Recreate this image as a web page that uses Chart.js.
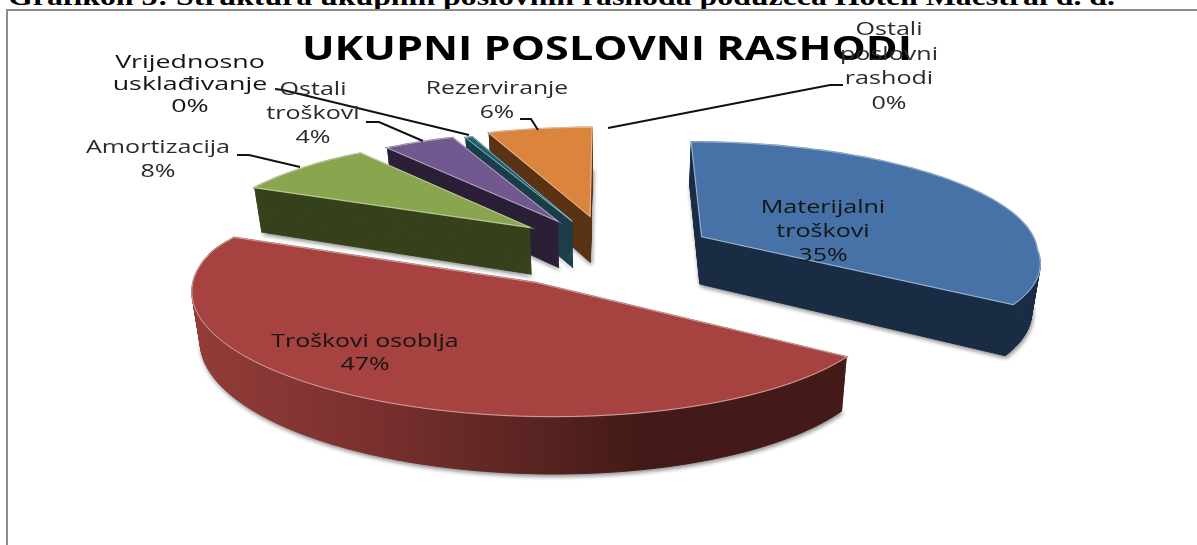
<!DOCTYPE html>
<html>
<head>
<meta charset="utf-8">
<title>Ukupni poslovni rashodi</title>
<style>
  html, body { margin: 0; padding: 0; background: #fff; overflow: hidden; }
  #page { position: relative; width: 1197px; height: 545px; overflow: hidden; }
  #caption { position: absolute; left: 8px; top: -18px; font: bold 26px "Liberation Serif", serif; white-space: nowrap; color: #000; transform-origin: 0 0; transform: scaleX(1.224); }
  #frame { position: absolute; left: 6px; top: 9px; width: 1300px; height: 700px; border: 2px solid #8c8c8c; }
  #chart { position: absolute; left: 0; top: 0; }
</style>
</head>
<body>
<div id="page">
  <div id="caption">Grafikon 3: Struktura ukupnih poslovnih rashoda poduzeća Hoteli Maestral d. d.</div>
  <div id="frame"></div>
  <canvas id="chart" width="1197" height="545"></canvas>
</div>
<script src="https://cdn.jsdelivr.net/npm/chart.js@4"></script>
<script>
// Values
const categories = ['Materijalni troškovi', 'Troškovi osoblja', 'Amortizacija', 'Ostali troškovi', 'Vrijednosno usklađivanje', 'Rezerviranje', 'Ostali poslovni rashodi'];
const shares = [35.0, 46.7, 8.0, 4.0, 0.4, 5.9, 0.0];
const chartTitle = 'UKUPNI POSLOVNI RASHODI';

const topColors = ['#4672a8', '#a64340', '#89a54e', '#71588f', '#1f5f70', '#db843d', '#93a9cf'];
const wallColors = ['#1a2d45', null, '#36421c', '#2b2037', '#1a3e48', '#5a3315', '#93a9cf'];

// Slice displacement in the pie plane (units of radius)
const explodeX = [0.285, -0.24, -0.246, -0.16, -0.115, -0.06, 0];
const explodeY = [-0.12, 0.295, -0.21, -0.27, -0.27, -0.32, 0];
const sliceReach = [1.02, 1, 1, 1, 1, 1, 1];
const drawOrder = [5, 4, 3, 2, 0, 1];

// Camera for the tilted pie
const view = { cx: 609, cy: 249.5, rx: 330, ry: 108, t: 0.126, shear: 30, depth: 48, foot: 0.98 };

// Label text blocks: centre x and one y per line
const labelLines = [
  ['Materijalni', 'troškovi'], ['Troškovi osoblja'], ['Amortizacija'], ['Ostali', 'troškovi'],
  ['Vrijednosno', 'usklađivanje'], ['Rezerviranje'], ['Ostali', 'poslovni', 'rashodi']
];
const labelX = [823, 365, 158, 313, 190, 497, 889];
const labelY = [208, 342, 148, 90, 63, 89, 30];
const labelGap = [24, 23, 24, 24, 22, 24, 24.5];
const labelStretch = [1.32, 1.31, 1.32, 1.32, 1.41, 1.3, 1.32];
const leaders = [
  null, null,
  [[237, 155], [249, 155], [300, 167]],
  [[366, 122], [379, 122], [423, 141]],
  [[275, 89], [283, 90], [469, 135]],
  [[520, 119], [531, 119], [538, 130]],
  [[843, 85], [830, 85], [608, 128]]
];

function project(u, v, drop) {
  const w = 1 / (1 - view.t * v);
  const k = drop ? 1 - (1 - view.foot) * drop / view.depth : 1;
  return [
    view.cx + (view.rx * u * w + view.shear * Math.max(v, 0)) * k,
    view.cy + view.ry * v * w + (drop || 0) * w
  ];
}

function slicePath(ctx, el, i, drop) {
  const ex = explodeX[i], ey = explodeY[i], r = sliceReach[i];
  const steps = Math.max(2, Math.ceil((el.endAngle - el.startAngle) * 40));
  ctx.beginPath();
  let p = project(ex, ey, drop);
  ctx.moveTo(p[0], p[1]);
  for (let s = 0; s <= steps; s++) {
    const a = el.startAngle + (el.endAngle - el.startAngle) * s / steps;
    p = project(ex + r * Math.cos(a), ey + r * Math.sin(a), drop);
    ctx.lineTo(p[0], p[1]);
  }
  ctx.closePath();
}

function redWall(ctx) {
  const g = ctx.createLinearGradient(195, 0, 640, 0);
  g.addColorStop(0, '#933c38');
  g.addColorStop(0.4, '#7a302e');
  g.addColorStop(0.75, '#5a2422');
  g.addColorStop(1, '#431a17');
  return g;
}

function stretchedText(ctx, txt, x, y, sx) {
  ctx.save();
  ctx.translate(x, y);
  ctx.scale(sx, 1);
  ctx.fillText(txt, 0, 0);
  ctx.restore();
}

// Chart.js gives the slice angles, the plugin tilts them into the 3D look
const tiltedPie = {
  id: 'tiltedPie',
  beforeDatasetsDraw(chart) {
    const ctx = chart.ctx;
    const arcs = chart.getDatasetMeta(0).data;
    ctx.save();
    drawOrder.forEach(i => {
      const el = arcs[i];
      if (el.endAngle - el.startAngle <= 0) return;
      const wall = wallColors[i] || redWall(ctx);
      ctx.save();
      ctx.shadowColor = 'rgba(0,0,0,0.45)';
      ctx.shadowBlur = 4;
      ctx.shadowOffsetX = 1;
      ctx.shadowOffsetY = 2;
      ctx.fillStyle = wall;
      ctx.strokeStyle = wall;
      ctx.lineWidth = 1;
      slicePath(ctx, el, i, view.depth);
      ctx.fill();
      ctx.stroke();
      ctx.restore();
      ctx.fillStyle = wall;
      ctx.strokeStyle = wall;
      ctx.lineWidth = 1;
      for (let d = view.depth - 1; d > 0; d--) {
        slicePath(ctx, el, i, d);
        ctx.fill();
        ctx.stroke();
      }
      slicePath(ctx, el, i, 0);
      ctx.fillStyle = el.options.backgroundColor;
      ctx.strokeStyle = el.options.backgroundColor;
      ctx.lineWidth = 1.5;
      ctx.fill();
      ctx.stroke();
      ctx.strokeStyle = 'rgba(225,225,225,0.6)';
      ctx.lineWidth = 1;
      ctx.stroke();
    });
    ctx.restore();
    return false;
  },
  afterDraw(chart) {
    const ctx = chart.ctx;
    const total = shares.reduce((a, b) => a + b, 0);
    ctx.save();
    ctx.textAlign = 'center';
    ctx.textBaseline = 'middle';
    ctx.fillStyle = '#000';
    ctx.font = 'bold 34px "Open Sans", sans-serif';
    stretchedText(ctx, chartTitle, 607, 50, 1.27);
    ctx.strokeStyle = '#111';
    ctx.lineWidth = 2;
    leaders.forEach(pts => {
      if (!pts) return;
      ctx.beginPath();
      pts.forEach((p, n) => n ? ctx.lineTo(p[0], p[1]) : ctx.moveTo(p[0], p[1]));
      ctx.stroke();
    });
    ctx.font = '19px "Open Sans", sans-serif';
    categories.forEach((c, i) => {
      const lines = labelLines[i].concat(Math.round(shares[i] / total * 100) + '%');
      ctx.fillStyle = (i < 2 || i === 4) ? '#141414' : '#2a2a2a';
      lines.forEach((txt, n) => {
        stretchedText(ctx, txt, labelX[i], labelY[i] + n * labelGap[i], labelStretch[i]);
      });
    });
    ctx.restore();
  }
};

new Chart(document.getElementById('chart'), {
  type: 'pie',
  data: {
    labels: categories,
    datasets: [{ data: shares, backgroundColor: topColors, borderWidth: 0 }]
  },
  options: {
    responsive: false,
    animation: false,
    plugins: {
      legend: { display: false },
      tooltip: { enabled: false },
      title: { display: false }
    }
  },
  plugins: [tiltedPie]
});
</script>
</body>
</html>
